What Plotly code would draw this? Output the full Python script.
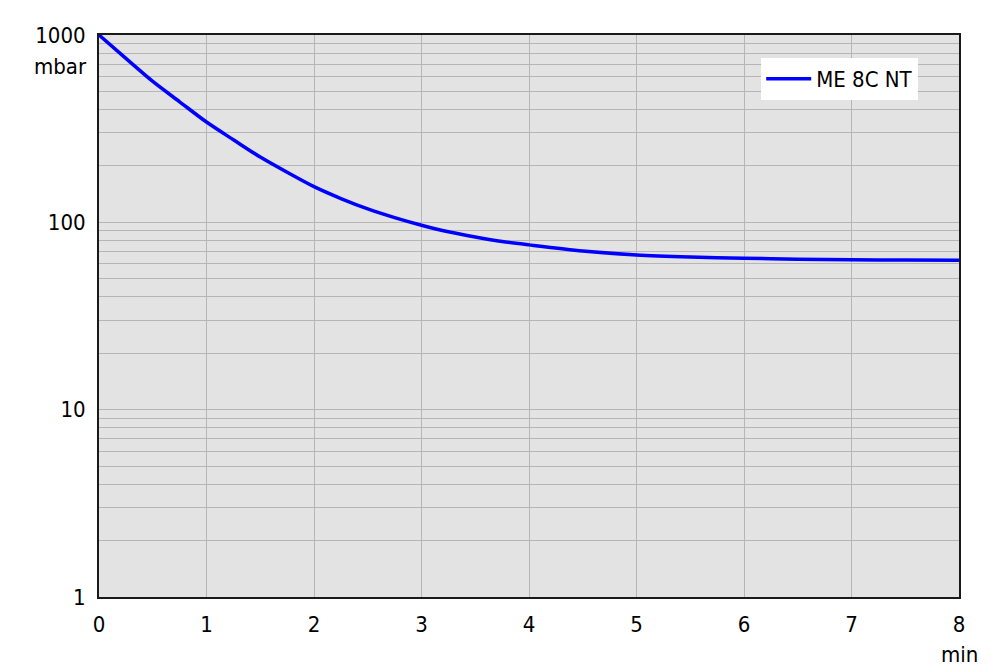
import plotly.graph_objects as go

# Data
time_min = [0, 0.25, 0.5, 0.75, 1.0, 1.25, 1.5, 1.75, 2.0, 2.25, 2.5, 2.75, 3.0, 3.25, 3.5, 3.75, 4.0,
            4.5, 5.0, 5.5, 6.0, 6.5, 7.0, 7.5, 8.0]
pressure_mbar = [1000, 750, 565, 440, 343, 276, 223, 185, 155, 134, 118, 106, 96.5, 89, 83.5, 79, 75.8,
                 70.3, 67.0, 65.3, 64.3, 63.6, 63.1, 62.9, 62.7]
series_name = "ME 8C NT"

x_ticks = [0, 1, 2, 3, 4, 5, 6, 7, 8]
y_major = [1, 10, 100, 1000]

y_tickvals = []
y_ticktext = []
for dec in y_major[:-1]:
    for m in range(1, 10):
        v = dec * m
        y_tickvals.append(v)
        y_ticktext.append(str(v) if m == 1 else "")
y_tickvals.append(y_major[-1])
y_ticktext.append(str(y_major[-1]))

FONT = "DejaVu Sans Condensed, DejaVu Sans, sans-serif"
FS = 22

fig = go.Figure()
fig.add_trace(go.Scatter(
    x=time_min, y=pressure_mbar, mode="lines", name=series_name,
    line=dict(color="#0000ff", width=3.5, shape="spline", smoothing=0.8),
))

# the page body adds an 8px margin, so the figure is 992x660 and margins are offset
fig.update_layout(
    width=992, height=660,
    margin=dict(l=91, r=41, t=27, b=71),
    paper_bgcolor="white",
    plot_bgcolor="#e3e3e3",
    font=dict(family=FONT, size=FS, color="black"),
    showlegend=True,
    legend=dict(
        x=0.770, y=0.959, xanchor="left", yanchor="top",
        bgcolor="white", borderwidth=0,
        font=dict(family=FONT, size=FS, color="black"),
        itemwidth=45, tracegroupgap=0,
    ),
    xaxis=dict(
        range=[0, 8], tickvals=x_ticks, ticktext=[str(t) for t in x_ticks],
        showgrid=True, gridcolor="#b6b6b6", gridwidth=1,
        showline=True, linecolor="#1a1a1a", linewidth=2, mirror=True,
        ticks="", zeroline=False, ticklabelstandoff=7,
    ),
    yaxis=dict(
        type="log", range=[0, 3], tickvals=y_tickvals, ticktext=y_ticktext,
        showgrid=True, gridcolor="#b6b6b6", gridwidth=1,
        showline=True, linecolor="#1a1a1a", linewidth=2, mirror=True,
        ticks="", zeroline=False, ticklabelstandoff=7,
    ),
)

fig.add_annotation(xref="paper", yref="paper", x=-0.012, y=0.944, xanchor="right", yanchor="middle",
                   text="mbar", showarrow=False, font=dict(family=FONT, size=FS, color="black"))
fig.add_annotation(xref="paper", yref="paper", x=1.0, y=-0.103, xanchor="center", yanchor="middle",
                   text="min", showarrow=False, font=dict(family=FONT, size=FS, color="black"))

fig.write_html("out.html")
